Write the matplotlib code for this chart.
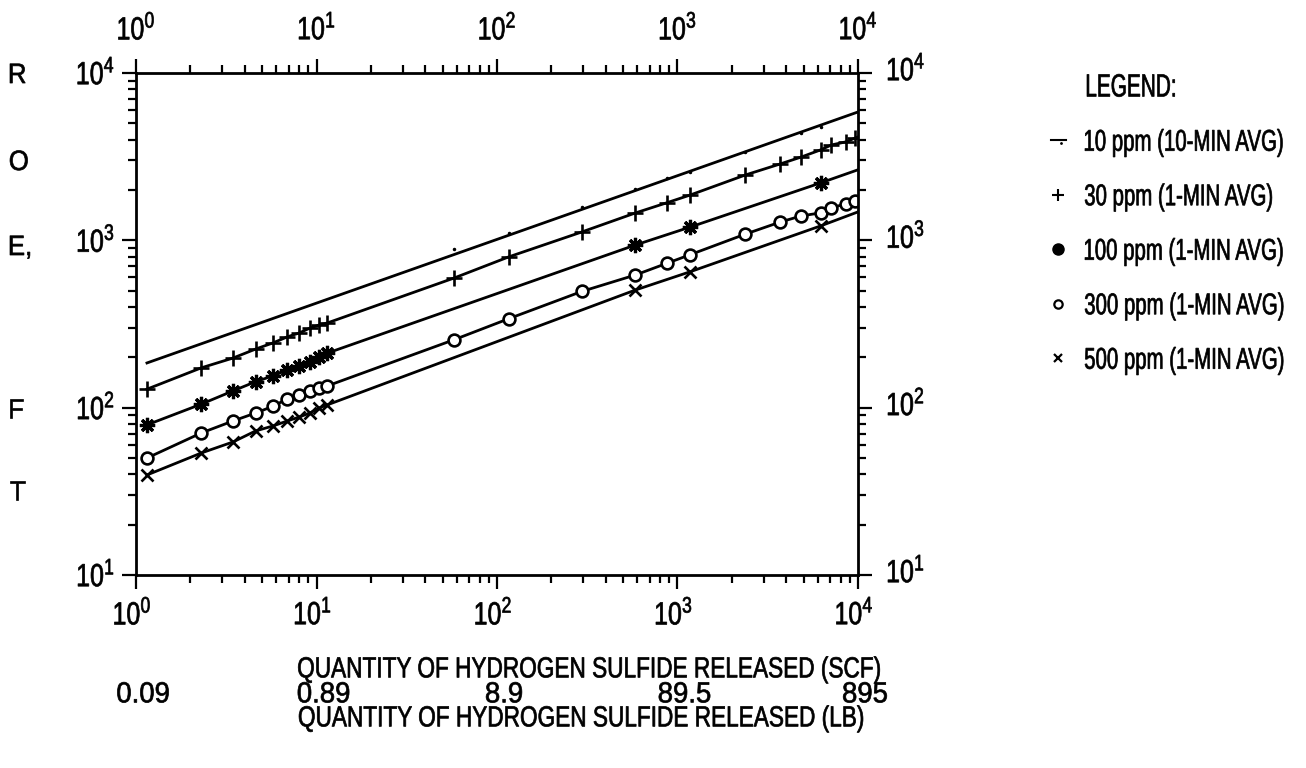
import matplotlib
matplotlib.use("Agg")
import matplotlib.pyplot as plt
from matplotlib.font_manager import FontProperties
from matplotlib.lines import Line2D
from matplotlib.patches import PathPatch
from matplotlib.textpath import TextPath
from matplotlib.ticker import LogLocator
from matplotlib.transforms import Affine2D

plt.rcParams["font.family"] = ["Liberation Sans", "DejaVu Sans"]
plt.rcParams["mathtext.fontset"] = "custom"
plt.rcParams["mathtext.rm"] = "Liberation Sans"

# cluster of small releases (SCF)
x_small = [1.15, 2.3, 3.45, 4.6, 5.75, 6.9, 8.05, 9.2, 10.35, 11.5]

# 10 ppm (10-min avg): straight line plus a few tiny dots
ppm10_line_x = [1.15, 1e4]
ppm10_line_y = [185, 5850]
ppm10_x = [58, 116, 295, 585, 870, 1180, 2380, 4860, 6200]
ppm10_y = [889, 1107, 1585, 2030, 2360, 2563, 3375, 4385, 4764]

# 30 ppm (1-min avg)
ppm30_x = x_small + [58, 116, 295, 585, 870, 1180, 2380, 3720, 4860, 6200, 7130, 8530, 9680]
ppm30_y = [129, 173, 198, 224, 244, 265, 280, 299, 312, 321,
           596, 796, 1122, 1458, 1675, 1868, 2459, 2864, 3150, 3470, 3716, 3873, 4092]
ppm30_end = 4150

# 100 ppm (1-min avg)
ppm100_x = x_small + [585, 1180, 6200]
ppm100_y = [78.9, 105, 126, 143, 155, 168, 177, 188, 201, 212, 938, 1202, 2203]
ppm100_end = 2640

# 300 ppm (1-min avg)
ppm300_x = x_small + [58, 116, 295, 585, 870, 1180, 2380, 3720, 4860, 6200, 7130, 8530, 9680]
ppm300_y = [50.0, 70.6, 83.3, 92.9, 102, 113, 119, 126, 131, 135,
            255, 340, 495, 621, 728, 822, 1090, 1288, 1400, 1459, 1564, 1652, 1722]
ppm300_end = 1760

# 500 ppm (1-min avg)
ppm500_x = x_small + [585, 1180, 6200]
ppm500_y = [39.6, 53.6, 62.4, 72.6, 77.8, 83.3, 88.0, 93.0, 99.6, 104, 505, 650, 1219]
ppm500_end = 1479

x_tick_exps = [0, 1, 2, 3, 4]
y_tick_exps = [1, 2, 3, 4]
lb_labels = ["0.09", "0.89", "8.9", "89.5", "895"]

legend_labels = ["10 ppm (10-MIN AVG)", "30 ppm (1-MIN AVG)", "100 ppm (1-MIN AVG)",
                 "300 ppm (1-MIN AVG)", "500 ppm (1-MIN AVG)"]
side_letters = ["R", "O", "E,", "F", "T"]

W, H = 1306, 768
fig = plt.figure(figsize=(W / 100, H / 100), dpi=100)
ax = fig.add_axes([136 / W, 1 - 575 / H, (858 - 136) / W, (575 - 73) / H])
ax.set_xscale("log")
ax.set_yscale("log")
ax.set_xlim(1, 1e4)
ax.set_ylim(10, 1e4)


def ntext(s, x, y, size, sx=0.66, ha="left"):
    """Condensed text drawn as a path; x, y in pixels from top-left, y = cap centre."""
    tp = TextPath((0, 0), s, size=size, prop=FontProperties(family="Liberation Sans"))
    ext = tp.get_extents()
    x0 = {"left": ext.x0, "center": (ext.x0 + ext.x1) / 2, "right": ext.x1}[ha]
    tr = Affine2D().translate(-x0, -0.358 * size).scale(sx, 1).translate(x, H - y)
    fig.add_artist(PathPatch(tp, transform=tr, facecolor="black",
                             edgecolor="black", lw=0.5))


LW = 2.0
MEW = 1.9
ax.plot(ppm10_line_x, ppm10_line_y, color="black", lw=LW)
ax.plot(ppm10_x, ppm10_y, ls="none", marker=".", ms=3, color="black")

ax.plot(ppm30_x + [1e4], ppm30_y + [ppm30_end], color="black", lw=LW)
ax.plot(ppm30_x, ppm30_y, ls="none", marker="+", ms=12, mew=MEW, color="black")

ax.plot(ppm100_x + [1e4], ppm100_y + [ppm100_end], color="black", lw=LW)
ax.plot(ppm100_x, ppm100_y, ls="none", marker=(8, 2, 0), ms=11, mew=2.3, color="black")

ax.plot(ppm300_x + [1e4], ppm300_y + [ppm300_end], color="black", lw=LW)
ax.plot(ppm300_x, ppm300_y, ls="none", marker="o", ms=8.5, mew=MEW, mfc="white", color="black")

ax.plot(ppm500_x + [1e4], ppm500_y + [ppm500_end], color="black", lw=LW)
ax.plot(ppm500_x, ppm500_y, ls="none", marker="x", ms=8.5, mew=MEW, color="black")

for sp in ax.spines.values():
    sp.set_linewidth(2.0)

ax.xaxis.set_major_locator(LogLocator(base=10, numticks=10))
ax.yaxis.set_major_locator(LogLocator(base=10, numticks=10))
ax.xaxis.set_minor_locator(LogLocator(base=10, subs=range(2, 10), numticks=20))
ax.yaxis.set_minor_locator(LogLocator(base=10, subs=range(2, 10), numticks=20))
ax.tick_params(which="both", direction="out", top=True, right=True, width=1.6,
               labelbottom=False, labelleft=False, labeltop=False, labelright=False)
ax.tick_params(which="major", length=10)
ax.tick_params(which="minor", length=6)

# tick labels as condensed text
fig.canvas.draw()
for k in x_tick_exps:
    px = ax.transData.transform((10.0 ** k, 10))[0]
    lab = r"$\mathregular{10^{%d}}$" % k
    ntext(lab, px, 28, 32, sx=0.78, ha="center")
    ntext(lab, px - 4, 613, 32, sx=0.78, ha="center")
for k in y_tick_exps:
    py = H - ax.transData.transform((1, 10.0 ** k))[1]
    lab = r"$\mathregular{10^{%d}}$" % k
    ntext(lab, 113, py, 32, sx=0.78, ha="right")
    ntext(lab, 888, py - 4, 32, sx=0.78, ha="left")

# second x scale (pounds) and axis titles
for lab, k in zip(lb_labels, x_tick_exps):
    px = ax.transData.transform((10.0 ** k, 10))[0]
    ntext(lab, px + 7, 692, 29, sx=0.95, ha="center")
ntext("QUANTITY OF HYDROGEN SULFIDE RELEASED (SCF)", 589, 667, 29, sx=0.78, ha="center")
ntext("QUANTITY OF HYDROGEN SULFIDE RELEASED (LB)", 581, 716, 29, sx=0.78, ha="center")

for letter, py in zip(side_letters, [73, 160, 245, 408, 490]):
    ntext(letter, 10, py, 28, sx=0.92, ha="left")

# hand-built legend
ntext("LEGEND:", 1087, 85, 32, sx=0.65)
legend_styles = [
    dict(marker=None),
    dict(marker="+", ms=9, mew=1.5),
    dict(marker="o", ms=8, mfc="black"),
    dict(marker="o", ms=6, mew=1.6, mfc="white"),
    dict(marker="x", ms=6, mew=1.6),
]
for i, (lab, st) in enumerate(zip(legend_labels, legend_styles)):
    py = 140 + 54.5 * i
    yf = 1 - py / H
    if i == 0:
        fig.add_artist(Line2D([1051 / W, 1066 / W], [yf, yf], color="black", lw=1.5))
        fig.add_artist(Line2D([1061 / W], [yf - 3 / H], marker=".", ms=2, color="black"))
    else:
        fig.add_artist(Line2D([1058 / W], [yf], ls="none", color="black", **st))
    ntext(lab, 1085, py, 30, sx=0.68)

fig.savefig("out.png", dpi=100, facecolor="white")
